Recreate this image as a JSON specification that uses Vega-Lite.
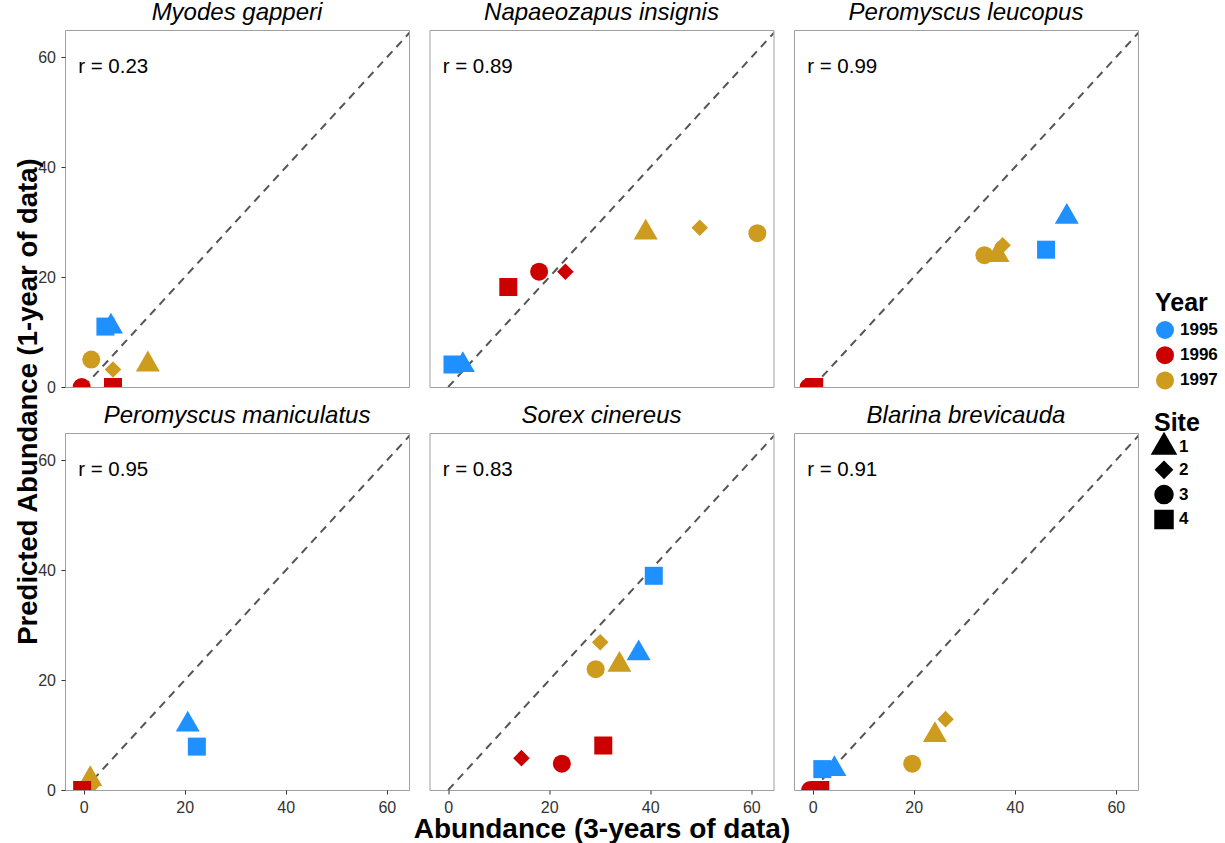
{
  "$schema": "https://vega.github.io/schema/vega-lite/v6.json",
  "background": "white",
  "padding": {"left": 13, "top": 0, "right": 5, "bottom": 0},
  "datasets": {
    "pts": [
      {"species": "Myodes gapperi", "year": "1995", "site": "4", "x": 4.3, "y": 11.0},
      {"species": "Myodes gapperi", "year": "1995", "site": "1", "x": 5.4, "y": 11.0},
      {"species": "Myodes gapperi", "year": "1996", "site": "3", "x": -0.4, "y": 0},
      {"species": "Myodes gapperi", "year": "1996", "site": "4", "x": 5.8, "y": 0},
      {"species": "Myodes gapperi", "year": "1997", "site": "3", "x": 1.5, "y": 5.0},
      {"species": "Myodes gapperi", "year": "1997", "site": "2", "x": 5.8, "y": 3.2},
      {"species": "Myodes gapperi", "year": "1997", "site": "1", "x": 12.7, "y": 4.1},
      {"species": "Napaeozapus insignis", "year": "1995", "site": "4", "x": 0.85, "y": 4.1},
      {"species": "Napaeozapus insignis", "year": "1995", "site": "1", "x": 2.9, "y": 4.0},
      {"species": "Napaeozapus insignis", "year": "1996", "site": "4", "x": 11.9, "y": 18.2},
      {"species": "Napaeozapus insignis", "year": "1996", "site": "3", "x": 18.0, "y": 21.0},
      {"species": "Napaeozapus insignis", "year": "1996", "site": "2", "x": 23.2, "y": 21.0},
      {"species": "Napaeozapus insignis", "year": "1997", "site": "1", "x": 39.1, "y": 28.1},
      {"species": "Napaeozapus insignis", "year": "1997", "site": "2", "x": 49.8, "y": 29.0},
      {"species": "Napaeozapus insignis", "year": "1997", "site": "3", "x": 61.2, "y": 28.0},
      {"species": "Peromyscus leucopus", "year": "1995", "site": "1", "x": 50.3, "y": 31.0},
      {"species": "Peromyscus leucopus", "year": "1995", "site": "4", "x": 46.2, "y": 25.0},
      {"species": "Peromyscus leucopus", "year": "1996", "site": "3", "x": -0.8, "y": 0},
      {"species": "Peromyscus leucopus", "year": "1996", "site": "4", "x": 0.3, "y": 0},
      {"species": "Peromyscus leucopus", "year": "1997", "site": "3", "x": 34.0, "y": 24.0},
      {"species": "Peromyscus leucopus", "year": "1997", "site": "1", "x": 36.6, "y": 24.0},
      {"species": "Peromyscus leucopus", "year": "1997", "site": "2", "x": 37.6, "y": 25.8},
      {"species": "Peromyscus maniculatus", "year": "1995", "site": "1", "x": 20.6, "y": 11.9},
      {"species": "Peromyscus maniculatus", "year": "1995", "site": "4", "x": 22.4, "y": 7.9},
      {"species": "Peromyscus maniculatus", "year": "1997", "site": "1", "x": 1.3, "y": 2.0},
      {"species": "Peromyscus maniculatus", "year": "1997", "site": "2", "x": 1.8, "y": 1.0},
      {"species": "Peromyscus maniculatus", "year": "1996", "site": "4", "x": -0.3, "y": 0},
      {"species": "Sorex cinereus", "year": "1995", "site": "4", "x": 40.7, "y": 39.0},
      {"species": "Sorex cinereus", "year": "1995", "site": "1", "x": 37.7, "y": 24.9},
      {"species": "Sorex cinereus", "year": "1996", "site": "4", "x": 30.7, "y": 8.1},
      {"species": "Sorex cinereus", "year": "1996", "site": "2", "x": 14.5, "y": 5.8},
      {"species": "Sorex cinereus", "year": "1996", "site": "3", "x": 22.5, "y": 4.8},
      {"species": "Sorex cinereus", "year": "1997", "site": "2", "x": 30.1, "y": 26.9},
      {"species": "Sorex cinereus", "year": "1997", "site": "1", "x": 33.9, "y": 22.8},
      {"species": "Sorex cinereus", "year": "1997", "site": "3", "x": 29.2, "y": 22.0},
      {"species": "Blarina brevicauda", "year": "1995", "site": "4", "x": 1.9, "y": 3.8},
      {"species": "Blarina brevicauda", "year": "1995", "site": "1", "x": 4.3, "y": 3.8},
      {"species": "Blarina brevicauda", "year": "1996", "site": "3", "x": -0.5, "y": 0},
      {"species": "Blarina brevicauda", "year": "1996", "site": "4", "x": 1.5, "y": 0},
      {"species": "Blarina brevicauda", "year": "1997", "site": "2", "x": 26.3, "y": 12.9},
      {"species": "Blarina brevicauda", "year": "1997", "site": "1", "x": 24.2, "y": 10.0},
      {"species": "Blarina brevicauda", "year": "1997", "site": "3", "x": 19.7, "y": 4.8}
    ],
    "diag": [{"x": 0, "y": 0}, {"x": 80, "y": 80}],
    "corrs": [
      {"species": "Myodes gapperi", "lab": "r = 0.23"},
      {"species": "Napaeozapus insignis", "lab": "r = 0.89"},
      {"species": "Peromyscus leucopus", "lab": "r = 0.99"},
      {"species": "Peromyscus maniculatus", "lab": "r = 0.95"},
      {"species": "Sorex cinereus", "lab": "r = 0.83"},
      {"species": "Blarina brevicauda", "lab": "r = 0.91"}
    ]
  },
  "config": {
    "font": "Liberation Sans",
    "view": {"stroke": "#a0a0a0", "strokeWidth": 1},
    "axis": {"grid": false, "domain": false, "tickColor": "#333333", "tickSize": 4, "tickWidth": 1, "labelFontSize": 16, "labelColor": "#333333", "labelPadding": 5.5, "titleColor": "black", "titleFontWeight": "bold"},
    "title": {"fontSize": 24, "fontStyle": "italic", "fontWeight": "normal", "baseline": "alphabetic", "offset": 5, "anchor": "middle", "frame": "group", "color": "black"},
    "legend": {"titleFontSize": 25, "titleFontWeight": "bold", "titleColor": "black", "labelFontSize": 17, "labelFontWeight": "bold", "labelColor": "black", "labelOffset": 5, "rowPadding": 6.2, "titlePadding": 4, "symbolSize": 324}
  },
  "bounds": "flush",
  "columns": 3,
  "spacing": {"row": 46, "column": 20.5},
  "resolve": {"scale": {"color": "shared", "shape": "shared"}},
  "concat": [
    {
      "width": 344, "height": 357,
      "title": {"text": "Myodes gapperi"},
      "layer": [
        {"data": {"name": "diag"}, "mark": {"type": "line", "color": "#555555", "strokeWidth": 2, "strokeDash": [8, 6], "clip": true},
         "encoding": {
           "x": {"field": "x", "type": "quantitative", "scale": {"domain": [-3.7, 64.4], "nice": false, "zero": false}, "axis": null},
           "y": {"field": "y", "type": "quantitative", "scale": {"domain": [0, 65], "nice": false}, "axis": {"values": [0, 20, 40, 60], "title": "Predicted Abundance (1-year of data)", "titleFontSize": 27.5, "titleBaseline": "alphabetic", "titleX": -29, "titleY": 371, "titleAlign": "center", "titleAngle": -90}}
         }},
        {"data": {"name": "pts"}, "transform": [{"filter": "datum.species === 'Myodes gapperi'"}],
         "mark": {"type": "point", "filled": true, "opacity": 1, "size": 324, "clip": true},
         "encoding": {
           "x": {"field": "x", "type": "quantitative"},
           "y": {"field": "y", "type": "quantitative"},
           "color": {"field": "year", "type": "nominal", "title": "Year", "scale": {"domain": ["1995", "1996", "1997"], "range": ["#1E90FF", "#CD0000", "#CD9B1D"]}, "legend": {"orient": "none", "legendX": 1090, "legendY": 261, "symbolType": "circle"}},
           "shape": {"field": "site", "type": "nominal", "title": "Site", "scale": {"domain": ["1", "2", "3", "4"], "range": ["M0,-1.54L1.333,0.77L-1.333,0.77Z", "M0,-0.92L0.92,0L0,0.92L-0.92,0Z", "circle", "square"]}, "legend": {"orient": "none", "legendX": 1089, "legendY": 381, "symbolFillColor": "black", "symbolStrokeColor": "black", "titlePadding": 1, "rowPadding": 0.8}}
         }},
        {"data": {"name": "corrs"}, "transform": [{"filter": "datum.species === 'Myodes gapperi'"}],
         "mark": {"type": "text", "align": "left", "baseline": "middle", "fontSize": 20.5, "fill": "black"},
         "encoding": {"x": {"datum": -1.1, "type": "quantitative"}, "y": {"datum": 58.2, "type": "quantitative"}, "text": {"field": "lab", "type": "nominal"}}}
      ]
    },
    {
      "width": 344, "height": 357,
      "title": {"text": "Napaeozapus insignis"},
      "layer": [
        {"data": {"name": "diag"}, "mark": {"type": "line", "color": "#555555", "strokeWidth": 2, "strokeDash": [8, 6], "clip": true},
         "encoding": {
           "x": {"field": "x", "type": "quantitative", "scale": {"domain": [-3.7, 64.4], "nice": false, "zero": false}, "axis": null},
           "y": {"field": "y", "type": "quantitative", "scale": {"domain": [0, 65], "nice": false}, "axis": null}
         }},
        {"data": {"name": "pts"}, "transform": [{"filter": "datum.species === 'Napaeozapus insignis'"}],
         "mark": {"type": "point", "filled": true, "opacity": 1, "size": 324, "clip": true},
         "encoding": {
           "x": {"field": "x", "type": "quantitative", "axis": null},
           "y": {"field": "y", "type": "quantitative", "axis": null},
           "color": {"field": "year", "type": "nominal", "title": "Year"},
           "shape": {"field": "site", "type": "nominal", "title": "Site"}
         }},
        {"data": {"name": "corrs"}, "transform": [{"filter": "datum.species === 'Napaeozapus insignis'"}],
         "mark": {"type": "text", "align": "left", "baseline": "middle", "fontSize": 20.5, "fill": "black"},
         "encoding": {"x": {"datum": -1.1, "type": "quantitative", "axis": null}, "y": {"datum": 58.2, "type": "quantitative", "axis": null}, "text": {"field": "lab", "type": "nominal"}}}
      ]
    },
    {
      "width": 344, "height": 357,
      "title": {"text": "Peromyscus leucopus"},
      "layer": [
        {"data": {"name": "diag"}, "mark": {"type": "line", "color": "#555555", "strokeWidth": 2, "strokeDash": [8, 6], "clip": true},
         "encoding": {
           "x": {"field": "x", "type": "quantitative", "scale": {"domain": [-3.7, 64.4], "nice": false, "zero": false}, "axis": null},
           "y": {"field": "y", "type": "quantitative", "scale": {"domain": [0, 65], "nice": false}, "axis": null}
         }},
        {"data": {"name": "pts"}, "transform": [{"filter": "datum.species === 'Peromyscus leucopus'"}],
         "mark": {"type": "point", "filled": true, "opacity": 1, "size": 324, "clip": true},
         "encoding": {
           "x": {"field": "x", "type": "quantitative", "axis": null},
           "y": {"field": "y", "type": "quantitative", "axis": null},
           "color": {"field": "year", "type": "nominal", "title": "Year"},
           "shape": {"field": "site", "type": "nominal", "title": "Site"}
         }},
        {"data": {"name": "corrs"}, "transform": [{"filter": "datum.species === 'Peromyscus leucopus'"}],
         "mark": {"type": "text", "align": "left", "baseline": "middle", "fontSize": 20.5, "fill": "black"},
         "encoding": {"x": {"datum": -1.1, "type": "quantitative", "axis": null}, "y": {"datum": 58.2, "type": "quantitative", "axis": null}, "text": {"field": "lab", "type": "nominal"}}}
      ]
    },
    {
      "width": 344, "height": 357,
      "title": {"text": "Peromyscus maniculatus"},
      "layer": [
        {"data": {"name": "diag"}, "mark": {"type": "line", "color": "#555555", "strokeWidth": 2, "strokeDash": [8, 6], "clip": true},
         "encoding": {
           "x": {"field": "x", "type": "quantitative", "scale": {"domain": [-3.7, 64.4], "nice": false, "zero": false}, "axis": {"values": [0, 20, 40, 60], "title": null}},
           "y": {"field": "y", "type": "quantitative", "scale": {"domain": [0, 65], "nice": false}, "axis": {"values": [0, 20, 40, 60], "title": null}}
         }},
        {"data": {"name": "pts"}, "transform": [{"filter": "datum.species === 'Peromyscus maniculatus'"}],
         "mark": {"type": "point", "filled": true, "opacity": 1, "size": 324, "clip": true},
         "encoding": {
           "x": {"field": "x", "type": "quantitative"},
           "y": {"field": "y", "type": "quantitative"},
           "color": {"field": "year", "type": "nominal", "title": "Year"},
           "shape": {"field": "site", "type": "nominal", "title": "Site"}
         }},
        {"data": {"name": "corrs"}, "transform": [{"filter": "datum.species === 'Peromyscus maniculatus'"}],
         "mark": {"type": "text", "align": "left", "baseline": "middle", "fontSize": 20.5, "fill": "black"},
         "encoding": {"x": {"datum": -1.1, "type": "quantitative"}, "y": {"datum": 58.2, "type": "quantitative"}, "text": {"field": "lab", "type": "nominal"}}}
      ]
    },
    {
      "width": 344, "height": 357,
      "title": {"text": "Sorex cinereus"},
      "layer": [
        {"data": {"name": "diag"}, "mark": {"type": "line", "color": "#555555", "strokeWidth": 2, "strokeDash": [8, 6], "clip": true},
         "encoding": {
           "x": {"field": "x", "type": "quantitative", "scale": {"domain": [-3.7, 64.4], "nice": false, "zero": false}, "axis": {"values": [0, 20, 40, 60], "title": "Abundance (3-years of data)", "titleFontSize": 28, "titleBaseline": "alphabetic", "titleY": 47}},
           "y": {"field": "y", "type": "quantitative", "scale": {"domain": [0, 65], "nice": false}, "axis": null}
         }},
        {"data": {"name": "pts"}, "transform": [{"filter": "datum.species === 'Sorex cinereus'"}],
         "mark": {"type": "point", "filled": true, "opacity": 1, "size": 324, "clip": true},
         "encoding": {
           "x": {"field": "x", "type": "quantitative"},
           "y": {"field": "y", "type": "quantitative", "axis": null},
           "color": {"field": "year", "type": "nominal", "title": "Year"},
           "shape": {"field": "site", "type": "nominal", "title": "Site"}
         }},
        {"data": {"name": "corrs"}, "transform": [{"filter": "datum.species === 'Sorex cinereus'"}],
         "mark": {"type": "text", "align": "left", "baseline": "middle", "fontSize": 20.5, "fill": "black"},
         "encoding": {"x": {"datum": -1.1, "type": "quantitative"}, "y": {"datum": 58.2, "type": "quantitative", "axis": null}, "text": {"field": "lab", "type": "nominal"}}}
      ]
    },
    {
      "width": 344, "height": 357,
      "title": {"text": "Blarina brevicauda"},
      "layer": [
        {"data": {"name": "diag"}, "mark": {"type": "line", "color": "#555555", "strokeWidth": 2, "strokeDash": [8, 6], "clip": true},
         "encoding": {
           "x": {"field": "x", "type": "quantitative", "scale": {"domain": [-3.7, 64.4], "nice": false, "zero": false}, "axis": {"values": [0, 20, 40, 60], "title": null}},
           "y": {"field": "y", "type": "quantitative", "scale": {"domain": [0, 65], "nice": false}, "axis": null}
         }},
        {"data": {"name": "pts"}, "transform": [{"filter": "datum.species === 'Blarina brevicauda'"}],
         "mark": {"type": "point", "filled": true, "opacity": 1, "size": 324, "clip": true},
         "encoding": {
           "x": {"field": "x", "type": "quantitative"},
           "y": {"field": "y", "type": "quantitative", "axis": null},
           "color": {"field": "year", "type": "nominal", "title": "Year"},
           "shape": {"field": "site", "type": "nominal", "title": "Site"}
         }},
        {"data": {"name": "corrs"}, "transform": [{"filter": "datum.species === 'Blarina brevicauda'"}],
         "mark": {"type": "text", "align": "left", "baseline": "middle", "fontSize": 20.5, "fill": "black"},
         "encoding": {"x": {"datum": -1.1, "type": "quantitative"}, "y": {"datum": 58.2, "type": "quantitative", "axis": null}, "text": {"field": "lab", "type": "nominal"}}}
      ]
    }
  ]
}
